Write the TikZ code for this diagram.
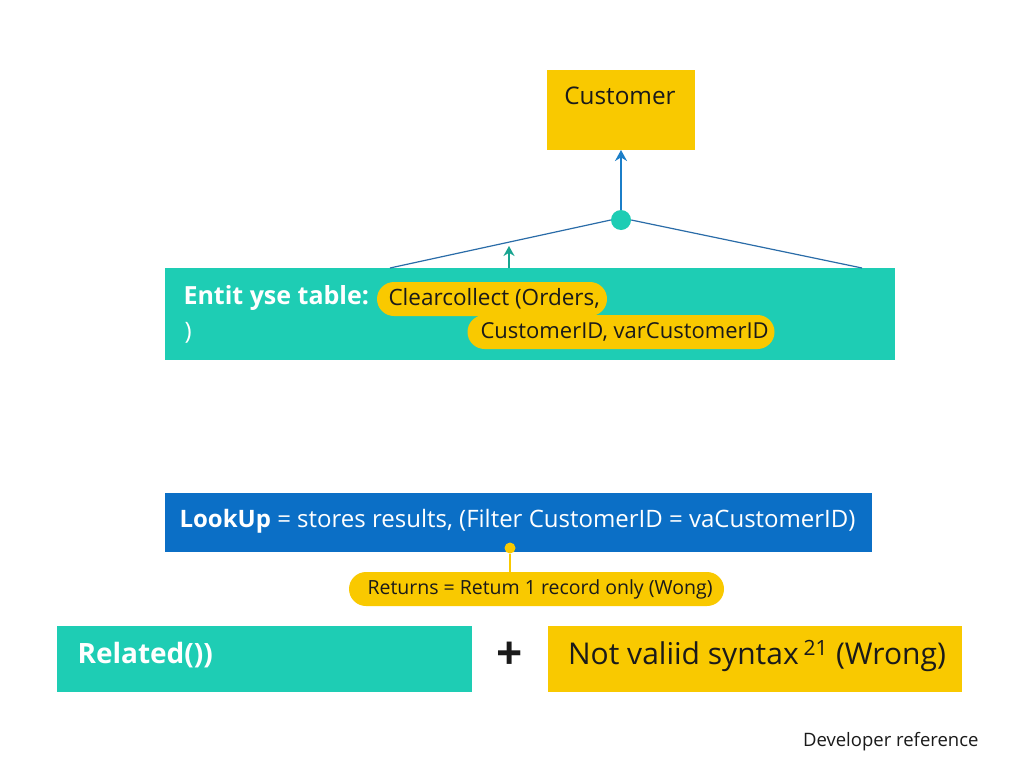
\documentclass[tikz,border=0pt]{standalone}
\usepackage{fontspec}
\setmainfont{Open Sans}
\usetikzlibrary{arrows.meta}
\definecolor{cyellow}{HTML}{F9C900}
\definecolor{cteal}{HTML}{1ECDB4}
\definecolor{cblue}{HTML}{0B6FC6}
\definecolor{carrow}{HTML}{1B7EC8}
\definecolor{cline}{HTML}{2A6CA8}
\definecolor{ctext}{HTML}{1A1A1A}
\tikzset{
  box/.style={rectangle, inner sep=0pt, outer sep=0pt},
  pill/.style={rectangle, rounded corners=17pt, fill=cyellow, minimum height=34pt, inner sep=0pt, text=ctext},
  conn/.style={draw=cline, line width=1.2pt},
}
\begin{document}
\begin{tikzpicture}[x=1pt,y=-1pt]
\useasboundingbox[fill=white] (0,0) rectangle (1024,768);
% Customer box
\node[box, fill=cyellow, minimum width=148pt, minimum height=80pt] (customer) at (621,110) {};
\node[text=ctext, font=\fontsize{24.3}{28}\selectfont] (custlabel) at (620,96) {Customer};
% hub
\node[circle, fill=cteal, minimum size=20pt, inner sep=0pt] (hub) at (621,220) {};
\draw[draw=carrow, line width=1.8pt, -{Stealth[length=11pt,width=12pt]}] (hub) -- (customer.south);
% table
\node[box, fill=cteal, minimum width=730pt, minimum height=92pt] (table) at (530,314) {};
\coordinate (tl) at (390,268);
\coordinate (tr) at (862,268);
\draw[conn] (tl) -- (hub.west);
\draw[conn] (hub.east) -- (tr);
\coordinate (tb) at (509,268);
\coordinate (tt) at (509,246);
\draw[draw=cteal!80!black, line width=1.8pt, -{Stealth[length=10pt,width=11pt]}] (tb) -- (tt);
\node[anchor=west, text=white, font=\bfseries\fontsize{25}{28}\selectfont] (tlabel) at (180,298) {Entit yse table:};
\node[anchor=west, text=white, font=\fontsize{24}{28}\selectfont] (tparen) at (181,333) {)};
\node[pill, minimum width=230pt] (pillA) at (492,299) {};
\node[anchor=west, text=ctext, font=\fontsize{22.5}{26}\selectfont] (pillAt) at (385,299) {Clearcollect (Orders,};
\node[pill, minimum width=307pt] (pillB) at (621,332) {};
\node[anchor=west, text=ctext, font=\fontsize{22}{26}\selectfont] (pillBt) at (477,332) {CustomerID, varCustomerID};
% lookup
\node[box, fill=cblue, minimum width=707pt, minimum height=59pt] (lookup) at (518.5,522.5) {};
\node[anchor=west, text=white, font=\fontsize{24}{28}\selectfont] (lookupt) at (176,521) {\textbf{LookUp} = stores results, (Filter CustomerID = vaCustomerID)};
\node[circle, fill=cyellow, minimum size=11pt, inner sep=0pt] (dot) at (510,548) {};
\node[pill, minimum width=375pt] (pillC) at (536.5,589) {};
\node[text=ctext, font=\fontsize{19.5}{23}\selectfont] (pillCt) at (540,589) {Returns = Retum 1 record only (Wong)};
\draw[draw=cyellow, line width=2pt] (dot) -- (pillC.north -| dot);
% bottom row
\node[box, fill=cteal, minimum width=415pt, minimum height=66pt] (related) at (264.5,659) {};
\node[anchor=west, text=white, font=\bfseries\fontsize{28}{32}\selectfont] (relatedt) at (74,655) {Related())};
\node[text=ctext, font=\bfseries\fontsize{46}{50}\selectfont] (plus) at (510,656) {+};
\node[box, fill=cyellow, minimum width=414pt, minimum height=66pt] (invalid) at (755,659) {};
\node[text=ctext, font=\fontsize{30}{34}\selectfont] (invalidt) at (757,656) {Not valiid syntax\,\textsuperscript{21} (Wrong)};
\node[anchor=east, text=ctext, font=\fontsize{18.5}{22}\selectfont] (devref) at (982,742) {Developer reference};
\end{tikzpicture}
\end{document}
